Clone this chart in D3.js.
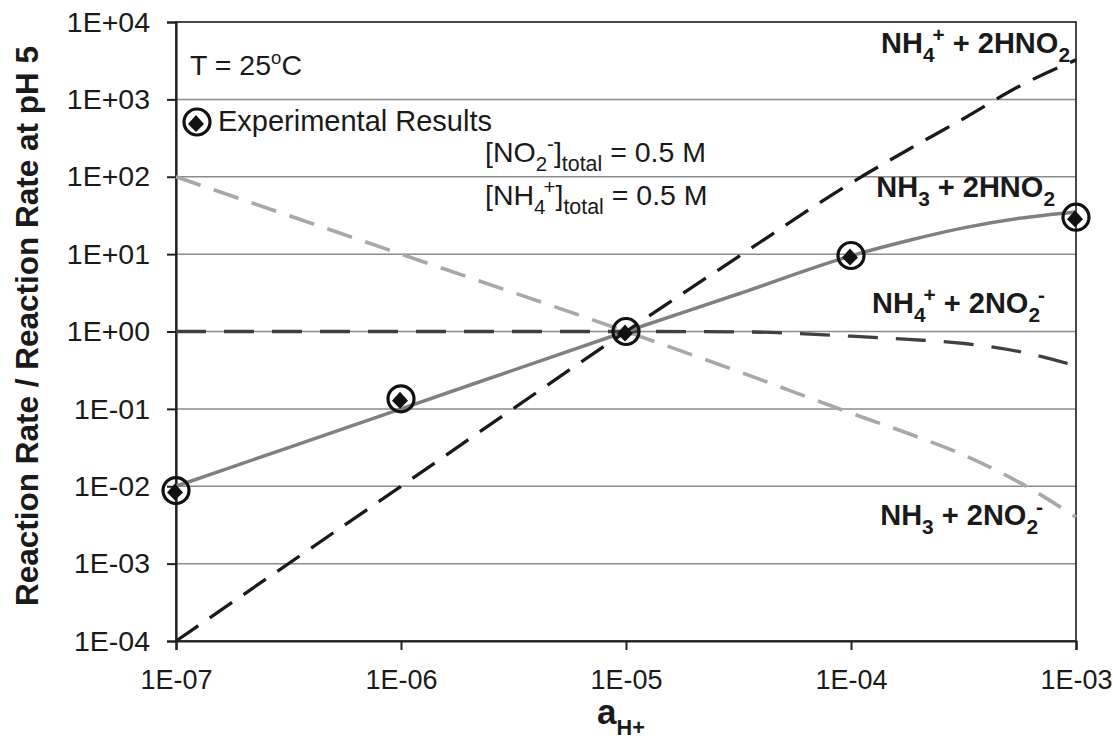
<!DOCTYPE html>
<html><head><meta charset="utf-8">
<script src="https://cdn.jsdelivr.net/npm/d3@7"></script>
<style>
html,body{margin:0;padding:0;background:#fff;}
text{font-family:"Liberation Sans",Arial,sans-serif;}
</style></head>
<body><svg id="c" width="1113" height="738"></svg>
<script>
// ---- data ----
const aH = [1e-7, 1e-6, 1e-5, 3.2e-5, 1e-4, 1.8e-4, 3.2e-4, 5.6e-4, 1e-3];
const nh4_hno2 = [1e-4, 1e-2, 1, 9.5, 83, 225, 575, 1480, 3240];
const nh3_hno2 = [0.01, 0.1, 1, 3.1, 9.5, 15, 22, 29, 35];
const nh4_no2 = [1, 1, 1, 0.99, 0.87, 0.79, 0.70, 0.55, 0.36];
const nh3_no2 = [100, 10, 1, 0.3, 0.088, 0.048, 0.025, 0.0112, 0.004];
const expX = [1e-7, 1e-6, 1e-5, 1e-4, 1e-3];
const expY = [0.0088, 0.135, 1.0, 9.6, 30];
const yTicks = [1e-4, 1e-3, 1e-2, 1e-1, 1, 1e1, 1e2, 1e3, 1e4];
const xTicks = [1e-7, 1e-6, 1e-5, 1e-4, 1e-3];

const svg = d3.select("#c");
const L = 176, R = 1076, T = 22, B = 641;
const x = d3.scaleLog().domain([1e-7, 1e-3]).range([L, R]);
const y = d3.scaleLog().domain([1e-4, 1e4]).range([B, T]);
const fmt = v => { const e = Math.round(Math.log10(v)); const s = e < 0 ? "-" : "+"; return "1E" + s + String(Math.abs(e)).padStart(2, "0"); };

// gridlines
svg.append("g").selectAll("line").data(yTicks.slice(1, -1)).join("line")
  .attr("x1", L).attr("x2", R).attr("y1", d => y(d)).attr("y2", d => y(d))
  .attr("stroke", "#8c8c8c").attr("stroke-width", 1.5);

// frame
svg.append("rect").attr("x", L).attr("y", T).attr("width", R - L).attr("height", B - T)
  .attr("fill", "none").attr("stroke", "#333").attr("stroke-width", 1.8);

// axes
const gy = svg.append("g").attr("transform", `translate(${L},0)`)
  .call(d3.axisLeft(y).tickValues(yTicks).tickFormat(fmt).tickSize(9).tickPadding(17));
const gx = svg.append("g").attr("transform", `translate(0,${B})`)
  .call(d3.axisBottom(x).tickValues(xTicks).tickFormat(fmt).tickSize(9));
[gy, gx].forEach(g => {
  g.select(".domain").attr("stroke", "#222").attr("stroke-width", 2.2);
  g.selectAll(".tick line").attr("stroke", "#222").attr("stroke-width", 2);
  g.selectAll("text").attr("font-size", 28.5).attr("fill", "#1a1a1a")
    .style("font-family", '"Liberation Sans",Arial,sans-serif');
});
gx.selectAll("text").attr("y", 48).attr("dy", 0).attr("font-size", 27);

// curves
const line = d3.line().x(d => x(d[0])).y(d => y(d[1])).curve(d3.curveMonotoneX);
function drawSeries(vals, color, w, dash) {
  svg.append("path").datum(aH.map((a, i) => [a, vals[i]]))
    .attr("d", line).attr("fill", "none").attr("stroke", color)
    .attr("stroke-width", w).attr("stroke-dasharray", dash);
}
drawSeries(nh3_no2, "#a8a8a8", 3.6, "26,14");
drawSeries(nh4_no2, "#404040", 3.3, "30,18");
drawSeries(nh3_hno2, "#808080", 3.5, null);
drawSeries(nh4_hno2, "#1a1a1a", 3.3, "27,14");

// markers
function marker(g, cx, cy) {
  g.append("circle").attr("cx", cx).attr("cy", cy).attr("r", 13)
    .attr("fill", "none").attr("stroke", "#111").attr("stroke-width", 3.2);
  g.append("path").attr("d", `M${cx - 1},${cy - 7}L${cx + 7},${cy + 2}L${cx - 1},${cy + 10}L${cx - 9},${cy + 2}Z`)
    .attr("fill", "#111");
}
const gm = svg.append("g");
expX.forEach((a, i) => marker(gm, x(a), y(expY[i])));

// rich text helper
function rich(px, py, parts, size, weight, anchor) {
  const t = svg.append("text").attr("x", px).attr("y", py).attr("font-size", size)
    .attr("font-weight", weight || "normal").attr("fill", "#1a1a1a")
    .attr("text-anchor", anchor || "start");
  let level = 0;
  parts.forEach(p => {
    const target = p.s === "sub" ? 1 : p.s === "sup" ? -1 : 0;
    const off = { "1": size * 0.3, "0": 0, "-1": -size * 0.38 };
    const dy = off[target] - off[level];
    level = target;
    const ts = t.append("tspan").text(p.t).attr("dy", dy);
    if (p.dx) ts.attr("dx", p.dx);
    if (p.s) ts.attr("font-size", size * (p.fs || 0.72));
  });
  return t;
}

// annotations
rich(190, 75, [{ t: "T = 25" }, { t: "o", s: "sup", fs: 0.65 }, { t: "C" }], 28.5);
marker(svg, 197, 122);
svg.append("text").attr("x", 218).attr("y", 131).attr("font-size", 29).attr("fill", "#1a1a1a").text("Experimental Results");
rich(485, 162, [{ t: "[NO" }, { t: "2", s: "sub" }, { t: "-", s: "sup" }, { t: "]" }, { t: "total", s: "sub", fs: 0.75 }, { t: " = 0.5 M" }], 28.5);
rich(485, 205, [{ t: "[NH" }, { t: "4", s: "sub" }, { t: "+", s: "sup", dx: -2 }, { t: "]" }, { t: "total", s: "sub", fs: 0.75 }, { t: " = 0.5 M" }], 28.5);

rich(1070, 53, [{ t: "NH" }, { t: "4", s: "sub" }, { t: "+", s: "sup", dx: -2 }, { t: " + 2HNO" }, { t: "2", s: "sub" }], 29, "bold", "end");
rich(1055, 197, [{ t: "NH" }, { t: "3", s: "sub" }, { t: " + 2HNO" }, { t: "2", s: "sub" }], 29, "bold", "end");
rich(1045, 313, [{ t: "NH" }, { t: "4", s: "sub" }, { t: "+", s: "sup", dx: -2 }, { t: " + 2NO" }, { t: "2", s: "sub" }, { t: "-", s: "sup", dx: -2 }], 29, "bold", "end");
rich(1043, 525, [{ t: "NH" }, { t: "3", s: "sub" }, { t: " + 2NO" }, { t: "2", s: "sub" }, { t: "-", s: "sup", dx: -2 }], 29, "bold", "end");

// axis titles
svg.append("text").attr("transform", "translate(38,326) rotate(-90)").attr("text-anchor", "middle")
  .attr("font-size", 31.5).attr("font-weight", "bold").attr("fill", "#1a1a1a")
  .text("Reaction Rate / Reaction Rate at pH 5");
rich(597, 724, [{ t: "a" }, { t: "H+", s: "sub", fs: 0.62 }], 35, "bold");
</script></body></html>
